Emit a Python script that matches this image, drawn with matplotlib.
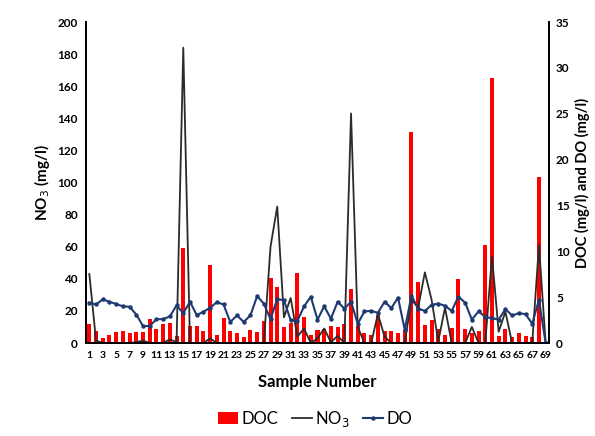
import numpy as np
import matplotlib
matplotlib.use("Agg")
import matplotlib.pyplot as plt

plt.rcParams['font.family'] = ['Lato', 'DejaVu Sans']

samples = np.arange(1, 70)

# DOC (mg/l), right axis
doc = [2.1, 1.3, 0.5, 0.9, 1.2, 1.3, 1.05, 1.2, 1.2, 2.6,
       1.5, 2.1, 2.15, 0.8, 10.4, 1.85, 1.85, 1.3, 8.5, 0.9,
       2.7, 1.3, 1.05, 0.6, 1.4, 1.25, 2.45, 7.05, 6.1, 1.75,
       2.15, 7.6, 2.8, 0.9, 1.4, 1.5, 1.8, 1.75, 2.1, 5.85,
       1.8, 1.1, 0.9, 3.1, 1.3, 1.3, 1.1, 1.4, 23.0, 6.6,
       2.0, 2.5, 1.5, 0.9, 1.6, 6.95, 1.5, 1.05, 1.3, 10.7,
       28.9, 0.8, 1.5, 0.6, 1.1, 0.8, 0.6, 18.1, 0.0]

# NO3 (mg/l), left axis
no3 = [43, 1.5, 0, 0, 0, 0, 0, 0.5, 1.5, 0,
       0, 0, 2.3, 0.5, 184, 0, 0, 0, 2.9, 0,
       0, 0, 0, 0, 0, 0, 0, 60, 85, 16,
       28, 4, 9, 0, 3, 9, 0.5, 4.4, 0, 143,
       10, 0, 0, 18, 4, 0, 0, 0, 27, 22,
       44, 27, 1, 22, 0, 0, 0, 10, 0, 0,
       54, 7, 19.5, 0, 0, 0, 0, 61, 0]

# DO (mg/l), right axis
do = [4.4, 4.2, 4.75, 4.5, 4.25, 4.0, 3.95, 3.1, 1.85, 1.85,
      2.6, 2.6, 2.9, 4.1, 3.25, 4.5, 3.05, 3.4, 3.85, 4.45,
      4.2, 2.3, 3.0, 2.3, 3.0, 5.1, 4.3, 2.6, 4.8, 4.65,
      2.5, 2.4, 4.0, 5.05, 2.55, 4.0, 2.65, 4.5, 3.75, 4.5,
      2.1, 3.45, 3.5, 3.3, 4.5, 3.8, 4.95, 1.45, 5.15, 3.75,
      3.5, 4.15, 4.3, 4.05, 3.5, 5.05, 4.4, 2.55, 3.45, 2.85,
      2.7, 2.55, 3.7, 3.0, 3.25, 3.15, 2.1, 4.7, 0.0]

xticks = list(range(1, 70, 2))

fig = plt.figure(figsize=(5.95, 4.36), dpi=100)
ax = fig.add_axes([0.1445, 0.2133, 0.7782, 0.7362])

# bars (DOC) on the right-hand scale
b = ax.bar(samples, doc, width=0.6, color='#FF0000', label='DOC', zorder=2)
ax.set_ylim(0, 35)
ax.set_xlim(0.5, 69.5)

# NO3 on the left-hand scale
axn = ax.twinx()
ln, = axn.plot(samples, no3, color='#2b2b2b', lw=1.3, label='NO$_3$')
axn.set_ylim(0, 200)

# DO on the right-hand scale
axd = ax.twinx()
axd.set_ylim(0, 35)
ld, = axd.plot(samples, do, color='#1F3A70', lw=1.5, marker='o', ms=2.2, label='DO')

# put the scales on their sides (twinx moves them around)
ax.yaxis.tick_right()
ax.yaxis.set_label_position('right')
ax.set_yticks(range(0, 36, 5))
ax.set_ylabel('DOC (mg/l) and DO (mg/l)', fontsize=10.5, fontweight='bold', labelpad=4)
axn.yaxis.tick_left()
axn.yaxis.set_label_position('left')
axn.set_yticks(range(0, 201, 20))
axn.set_ylabel('NO$_3$ (mg/l)', fontsize=11, fontweight='bold', labelpad=4)
axd.set_yticks([])

ax.set_xticks(xticks)
ax.set_xticklabels([str(t) for t in xticks], fontsize=7.5, fontweight='bold')
ax.set_xlabel('Sample Number', fontsize=12, fontweight='bold', labelpad=10)

for a in (ax, axn, axd):
    a.spines['top'].set_visible(False)
    for s in ('left', 'right', 'bottom'):
        a.spines[s].set_linewidth(1.2)
        a.spines[s].set_color('black')

ax.tick_params(axis='x', length=0, pad=6)
ax.tick_params(axis='y', length=0, labelsize=8.5, pad=5)
axn.tick_params(axis='y', length=0, labelsize=8.5, pad=6)
for lab in ax.get_yticklabels() + axn.get_yticklabels():
    lab.set_fontweight('bold')

fig.legend(handles=[b, ln, ld], labels=['DOC', 'NO$_3$', 'DO'],
           loc='center', bbox_to_anchor=(0.53, 0.04), ncol=3, frameon=False,
           fontsize=12, handlelength=1.2, handletextpad=0.2, columnspacing=0.8)

fig.savefig('out.png', dpi=100)
